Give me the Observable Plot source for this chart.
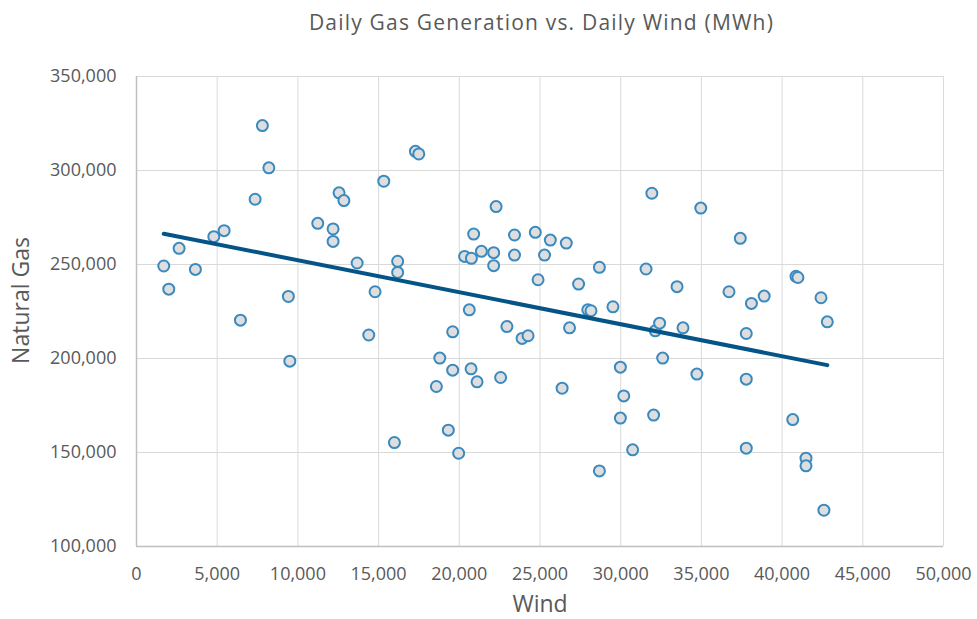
<!DOCTYPE html>
<html>
<head>
<meta charset="utf-8">
<script src="https://cdn.jsdelivr.net/npm/d3@7"></script>
<script src="https://cdn.jsdelivr.net/npm/@observablehq/plot@0.6"></script>
<style>
  body { margin: 0; background: #fff; font-family: "Open Sans", sans-serif; }
  #title { height: 40px; padding-top: 2px; line-height: 40px; width: 977px; box-sizing: border-box; padding-left: 116px; padding-right: 10px; text-align: center; font-size: 21px; letter-spacing: 1.2px; color: #595959; }
  #chart { height: 579px; }
</style>
</head>
<body>
<div id="title">Daily Gas Generation vs. Daily Wind (MWh)</div>
<div id="chart"></div>
<script>
const wind = [1690, 2000, 2640, 3650, 4790, 5430, 6440, 7350, 7800, 8200, 9410, 9500, 11230, 12180, 12180, 12550, 12850, 13670, 14390, 14780, 15320, 15980, 16180, 16180, 17280, 17490, 18580, 18790, 19320, 19590, 19590, 19960, 20330, 20620, 20730, 20750, 20890, 21100, 21370, 22130, 22130, 22280, 22560, 22950, 23420, 23420, 23890, 24260, 24710, 24880, 25280, 25640, 26370, 26630, 26830, 27390, 27960, 28160, 28680, 28680, 29520, 29980, 29980, 30190, 30740, 31570, 31930, 32040, 32140, 32410, 32600, 33490, 33860, 34720, 34960, 36710, 37410, 37780, 37780, 37780, 38100, 38890, 40660, 40860, 40980, 41480, 41480, 42410, 42590, 42800];
const gas = [249200, 236900, 258600, 247400, 264800, 268000, 220400, 284700, 323900, 301400, 233000, 198600, 271900, 268900, 262300, 288100, 284000, 250800, 212500, 235500, 294300, 155300, 251700, 245800, 310200, 308800, 185100, 200200, 161900, 214200, 193800, 149600, 254300, 225900, 194500, 253300, 266200, 187600, 257000, 256300, 249400, 280800, 189900, 217000, 265700, 255000, 210700, 212100, 267100, 241900, 255000, 263000, 184200, 261400, 216300, 239600, 225900, 225400, 248500, 140200, 227500, 195400, 168300, 180100, 151400, 247600, 287900, 169900, 214700, 218800, 200200, 238200, 216300, 191700, 280000, 235500, 263900, 213300, 189000, 152300, 229300, 233200, 167500, 243700, 243100, 147000, 142900, 232300, 119300, 219500];
const xTicks = [0, 5000, 10000, 15000, 20000, 25000, 30000, 35000, 40000, 45000, 50000];
const yTicks = [100000, 150000, 200000, 250000, 300000, 350000];

const data = wind.map((w, i) => ({wind: w, gas: gas[i]}));
const fmt = d3.format(",");

const chart = Plot.plot({
  width: 977,
  height: 579,
  marginLeft: 136,
  marginRight: 34,
  marginTop: 36,
  marginBottom: 73,
  style: {fontFamily: "'Open Sans', sans-serif", fontSize: "18px", color: "#595959", background: "#fff"},
  x: {domain: [0, 50000]},
  y: {domain: [100000, 350000]},
  marks: [
    Plot.gridX(xTicks, {stroke: "#d9d9d9", strokeOpacity: 1, strokeWidth: 1}),
    Plot.gridY(yTicks, {stroke: "#d9d9d9", strokeOpacity: 1, strokeWidth: 1}),
    Plot.ruleX([0], {stroke: "#bfbfbf", strokeWidth: 1.5}),
    Plot.ruleY([100000], {stroke: "#bfbfbf", strokeWidth: 1.5}),
    Plot.axisX(xTicks, {tickSize: 0, tickPadding: 21, tickFormat: fmt, label: null, fill: "#595959", fontSize: 18}),
    Plot.axisY(yTicks, {tickSize: 0, tickPadding: 20, tickFormat: fmt, label: null, fill: "#595959", fontSize: 18}),
    Plot.dot(data, {x: "wind", y: "gas", r: 5.5, fill: "#dedede", stroke: "#3a8ac0", strokeWidth: 2}),
    Plot.linearRegressionY(data, {x: "wind", y: "gas", stroke: "#045487", strokeWidth: 4, ci: 0}),
    Plot.text(["Wind"], {frameAnchor: "bottom", lineAnchor: "middle", dy: 58, fontSize: 23, fill: "#595959"}),
    Plot.text(["Natural Gas"], {frameAnchor: "left", textAnchor: "middle", lineAnchor: "middle", dx: -115, dy: -11, rotate: -90, fontSize: 23, fill: "#595959"})
  ]
});
document.getElementById("chart").appendChild(chart);
</script>
</body>
</html>
